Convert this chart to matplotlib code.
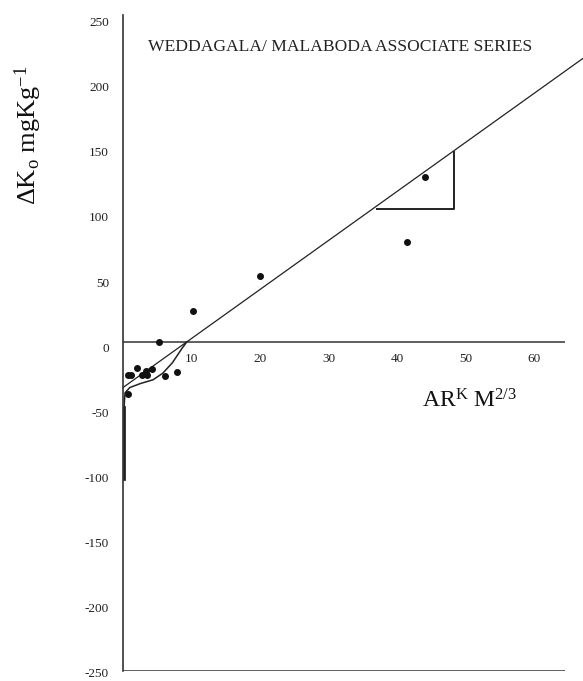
import matplotlib
matplotlib.use("Agg")
import matplotlib.pyplot as plt
from matplotlib.transforms import ScaledTranslation

plt.rcParams['font.family'] = ['Liberation Serif', 'DejaVu Serif']
plt.rcParams['mathtext.fontset'] = 'custom'
plt.rcParams['mathtext.rm'] = 'Liberation Serif'
plt.rcParams['mathtext.it'] = 'Liberation Serif:italic'

# Observed points: AR^K M^(2/3) vs delta K0
obs_x = [5.3, 10.2, 20.0, 41.5, 44.1,
         0.7, 1.2, 2.0, 2.8, 3.4, 3.5, 4.2, 6.1, 7.9, 0.7]
obs_y = [0, 24, 51, 77, 127,
         -25, -25, -20, -25, -22, -25, -21, -26, -23, -40]

# Linear fit
slope = 3.77
intercept = -35.0
line_x = [0.0, 67.2]

# Hand-fitted curve near the origin
curve_x = [0.15, 0.15, 0.3, 1.0, 2.5, 4.4, 5.8, 7.2, 8.6, 9.3]
curve_y = [-105, -50, -39, -35, -32, -29, -24, -16, -5, 0]

# Slope triangle
tri_x = [37.1, 48.3, 48.3]
tri_y = [102, 102, 146]

y_ticks = [250, 200, 150, 100, 50, 0, -50, -100, -150, -200, -250]
x_ticks = [10, 20, 30, 40, 50, 60]

fig = plt.figure(figsize=(5.83, 6.81), dpi=100)
W, H = 583, 681
ax = fig.add_axes([123 / W, 1 - 671 / H, (583 - 123) / W, (671 - 15) / H])
ax.set_xlim(0, 67.15)
ax.set_ylim(-253, 251.5)

for s in ['top', 'right', 'bottom']:
    ax.spines[s].set_visible(False)
ax.spines['left'].set_linewidth(1.2)
ax.spines['left'].set_color('#333333')

ax.hlines([0, -253], 0, 64.5, color='#333333', lw=1.1)

ax.set_xticks([])
ax.set_yticks(y_ticks)
ax.set_yticklabels([str(v) for v in y_ticks], fontsize=9.5, color='#222222')
ax.tick_params(axis='y', length=0, pad=10)
shift = ScaledTranslation(0, -5 / 100, fig.dpi_scale_trans)
for lab in ax.get_yticklabels():
    lab.set_transform(lab.get_transform() + shift)

for v in x_ticks:
    ax.text(v, -13, str(v), ha='center', va='center', fontsize=9.5, color='#222222')

ax.plot(line_x, [slope * x + intercept for x in line_x], color='#222222', lw=0.9,
        clip_on=False)
ax.plot(curve_x, curve_y, color='#222222', lw=1.1)
ax.plot([0.15, 0.15], [-105, -50], color='#222222', lw=2.0)
ax.plot(tri_x, tri_y, color='#222222', lw=1.4)
ax.plot(obs_x, obs_y, 'o', color='#111111', ms=4, clip_on=False)

fig.text(148 / W, 1 - 47 / H, 'WEDDAGALA/ MALABODA ASSOCIATE SERIES', fontsize=12.6,
         ha='left', va='center', color='#222222')

fig.text(28 / W, 1 - 135 / H, r'$\Delta$K$_\mathrm{o}$ mgKg$^{-1}$', rotation=90,
         ha='center', va='center', fontsize=19, color='#111111')
fig.text(470 / W, 1 - 407 / H, r'AR$^\mathrm{K}$ M$^{2/3}$', ha='center', va='baseline',
         fontsize=17, color='#111111')

fig.savefig('out.png', dpi=100)
